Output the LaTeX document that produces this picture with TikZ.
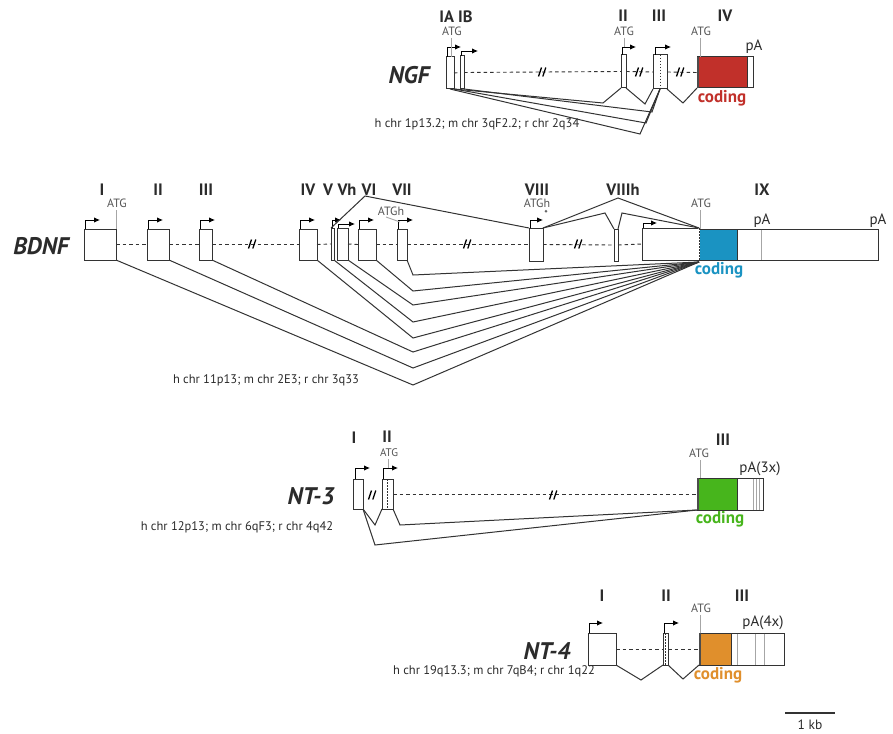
\documentclass[tikz,border=0pt]{standalone}
\usepackage{fontspec}
\setmainfont{PT Sans}
\usetikzlibrary{arrows.meta}
\definecolor{edge}{HTML}{333333}
\definecolor{txt}{HTML}{2B2B2B}
\definecolor{atgc}{HTML}{555555}
\definecolor{ngfc}{HTML}{C1302A}
\definecolor{bdnfc}{HTML}{1A93C2}
\definecolor{ntthree}{HTML}{47B51C}
\definecolor{ntfour}{HTML}{E08F2C}
\newcommand{\exonbox}[6]{\node[exon,minimum width=#4,minimum height=#5,#6] (#1) at (#2,#3) {};}
\newcommand{\tssarrow}[3]{\draw[tssline] (#1) -- ++(0,-#2) -- ++(#3,0);}
\begin{document}
\begin{tikzpicture}[x=1pt,y=-1pt,
  exon/.style={draw=edge,line width=1pt,fill=white,inner sep=0pt,outer sep=0pt,anchor=north west},
  tssline/.style={draw=black,line width=0.9pt,-{Latex[length=6pt,width=5.5pt]}},
  intron/.style={draw=edge,line width=0.9pt,dash pattern=on 3.5pt off 3pt},
  splice/.style={draw=edge,line width=1pt},
  atgline/.style={draw=gray!70,line width=0.9pt},
  dotl/.style={draw=edge,line width=0.9pt,dash pattern=on 1.5pt off 1.5pt},
  exlab/.style={font=\bfseries\fontsize{16.5}{16.5}\selectfont,text=txt,inner sep=0pt},
  atglab/.style={font=\fontsize{12}{12}\selectfont,text=atgc,inner sep=0pt},
  palab/.style={font=\fontsize{15}{15}\selectfont,text=txt,inner sep=0pt},
  codlab/.style={font=\bfseries\fontsize{17}{17}\selectfont,inner sep=0pt},
  genelab/.style={font=\bfseries\itshape\fontsize{24}{24}\selectfont,text=txt,inner sep=0pt},
  chrlab/.style={font=\fontsize{12.5}{12.5}\selectfont,text=txt,inner sep=0pt},
  brk/.pic={\draw[black,line width=1.3pt] (-3.5,4.5) -- (-0.5,-4.5) (0.8,4.5) -- (3.8,-4.5);}
]
\useasboundingbox (0,0) rectangle (893,733);
\fill[white] (0,0) rectangle (893,733);

%================ NGF =================
\exonbox{ngfIA}{446}{57}{8}{32}{}
\exonbox{ngfIB}{460}{56}{4}{33}{}
\exonbox{ngfII}{621}{55}{5}{33}{}
\exonbox{ngfIII}{653}{55}{14}{34}{}
\exonbox{ngfIVc}{697}{57}{50}{31}{fill=ngfc}
\exonbox{ngfIVw}{747}{57}{6}{31}{}
\draw[gray!60!black,line width=2pt] ([xshift=1pt]ngfIVc.north west) -- ([xshift=1pt]ngfIVc.south west);
\draw[dotl] (ngfIII.north) -- (ngfIII.south);
\draw[intron] (ngfIA.east) -- (ngfIB.west);
\draw[intron] (ngfIB.east) -- (ngfII.west);
\draw[intron] (ngfII.east) -- (ngfIII.west);
\draw[intron] (ngfIII.east) -- (ngfIVc.west);
\pic at (542,72) {brk};
\pic at (639,72) {brk};
\pic at (680,72) {brk};
\tssarrow{[xshift=1pt]ngfIA.north west}{10}{14}
\tssarrow{[xshift=1pt]ngfIB.north west}{5}{17}
\tssarrow{[xshift=1pt]ngfII.north west}{8}{14}
\tssarrow{[xshift=2pt]ngfIII.north west}{8}{16}
\node[exlab] (lNIA) at (456,17) {IA IB};
\node[atglab] (lNatg1) at (452,31) {ATG};
\draw[atgline] (451,38) -- (451,57);
\node[exlab] (lNII) at (623,16) {II};
\node[atglab] (lNatg2) at (624,31) {ATG};
\draw[atgline] (624,38) -- (624,47);
\node[exlab] (lNIII) at (659,16) {III};
\node[exlab] (lNIV) at (725,16) {IV};
\node[atglab] (lNatg3) at (701,31) {ATG};
\draw[atgline] (700,38) -- (700,57);
\node[palab] (lNpA) at (754,47) {pA};
\node[codlab,text=ngfc] (lNcod) at (722,98) {coding};
\node[genelab] (lNGF) at (409,75) {NGF};
\node[chrlab] (lNchr) at (477,124) {h chr 1p13.2; m chr 3qF2.2; r chr 2q34};
\coordinate (nA1) at (603,103);
\coordinate (nA2) at (645,104);
\coordinate (nA3) at (683,103);
\coordinate (nA4) at (652,112);
\coordinate (nA5) at (646,123);
\coordinate (nA6) at (640,134);
\draw[splice] (ngfIA.south east) -- (nA1) -- (ngfII.south west);
\draw[splice] (ngfII.south east) -- (nA2) -- (ngfIII.south west);
\draw[splice] (ngfIII.south east) -- (nA3) -- (ngfIVc.south west);
\draw[splice] (ngfIB.south east) -- (nA4) -- (ngfIII.south);
\draw[splice] (ngfIA.south east) -- (nA5) -- (ngfIII.south);
\draw[splice] (ngfIA.south) -- (nA6) -- (ngfIII.south);

%================ BDNF =================
\exonbox{bI}{84}{229}{32}{31}{}
\exonbox{bII}{147}{229}{22}{31}{}
\exonbox{bIII}{199}{229}{13}{31}{}
\exonbox{bIV}{299}{229}{18}{31}{}
\exonbox{bV}{331}{228}{3}{32}{}
\exonbox{bVh}{337}{228}{11}{32}{}
\exonbox{bVI}{358}{229}{18}{31}{}
\exonbox{bVII}{397}{229}{10}{31}{}
\exonbox{bVIII}{529}{228}{14}{33}{}
\exonbox{bVIIIh}{614}{229}{4}{32}{}
\exonbox{bIXa}{642}{228}{57}{32}{}
\exonbox{bIXc}{699}{229}{38}{31}{fill=bdnfc}
\exonbox{bIXw}{737}{229}{141}{31}{}
\draw[white,line width=1.4pt] (bIXa.north east) -- (bIXa.south east);
\draw[dotl] (bIXa.north east) -- (bIXa.south east);
\draw[atgline] (761,229.5) -- (761,259.5);
\draw[intron] (bI.east) -- (bII.west);
\draw[intron] (bII.east) -- (bIII.west);
\draw[intron] (bIII.east) -- (bIV.west);
\draw[intron] (bIV.east) -- (bV.west);
\draw[intron] (bVh.east) -- (bVI.west);
\draw[intron] (bVI.east) -- (bVII.west);
\draw[intron] (bVII.east) -- (bVIII.west);
\draw[intron] (bVIII.east) -- (bVIIIh.west);
\draw[intron] (bVIIIh.east) -- (bIXa.west);
\pic at (252,244) {brk};
\pic at (467,244) {brk};
\pic at (578,244) {brk};
\tssarrow{[xshift=1pt]bI.north west}{9}{15}
\tssarrow{[xshift=1pt]bII.north west}{9}{15}
\tssarrow{[xshift=1pt]bIII.north west}{9}{15}
\tssarrow{[xshift=1pt]bIV.north west}{9}{15}
\tssarrow{[xshift=1pt]bV.north west}{8}{9}
\tssarrow{[xshift=1pt]bVh.north west}{4}{17}
\tssarrow{[xshift=1pt]bVI.north west}{9}{15}
\tssarrow{[xshift=1pt]bVII.north west}{9}{15}
\tssarrow{[xshift=1pt]bVIII.north west}{8}{13}
\tssarrow{[xshift=1pt]bIXa.north west}{5}{14}
\node[font=\fontsize{10}{10}\selectfont,text=txt,inner sep=0pt] (bstar) at (546,214) {*};
\node[exlab] (lbI) at (102,190) {I};
\node[exlab] (lbII) at (158,190) {II};
\node[exlab] (lbIII) at (206,190) {III};
\node[exlab] (lbIV) at (308,190) {IV};
\node[exlab] (lbV) at (328,190) {V};
\node[exlab] (lbVh) at (347,190) {Vh};
\node[exlab] (lbVI) at (369,190) {VI};
\node[exlab] (lbVII) at (402,190) {VII};
\node[exlab] (lbVIII) at (537,190) {VIII};
\node[exlab] (lbVIIIh) at (623,190) {VIIIh};
\node[exlab] (lbIX) at (762,190) {IX};
\node[atglab] (lbatg1) at (117,203) {ATG};
\draw[atgline] (116,210) -- (116,229);
\node[atglab] (lbatgh1) at (391,211) {ATGh};
\draw[atgline] (386,217) -- (400,222);
\node[atglab] (lbatgh2) at (537,203) {ATGh};
\node[atglab] (lbatg2) at (701,203) {ATG};
\draw[atgline] (700,210) -- (700,229);
\node[palab] (lbpA1) at (762,221) {pA};
\node[palab] (lbpA2) at (878,221) {pA};
\node[codlab,text=bdnfc] (lbcod) at (719,270) {coding};
\node[genelab] (lBDNF) at (41,246) {BDNF};
\node[chrlab] (lbchr) at (266,380) {h chr 11p13; m chr 2E3; r chr 3q33};
% top splice lines
\coordinate (bt1) at (365,196);
\coordinate (bt2) at (618,198);
\coordinate (bt3) at (605,213);
\coordinate (bt4) at (622,213);
\draw[splice] (bV.north west) -- (bt1) -- (bVIII.north west);
\draw[splice] (bVIII.north east) -- (bt2) -- (bIXa.north east);
\draw[splice] (bVIII.north east) -- (bt3) -- (bVIIIh.north west);
\draw[splice] (bVIIIh.north east) -- (bt4) -- (bIXa.north east);
% bottom splice lines
\coordinate (ba1) at (413,385);
\coordinate (ba2) at (413,368);
\coordinate (ba3) at (413,352);
\coordinate (ba4) at (413,338);
\coordinate (ba5) at (413,322);
\coordinate (ba6) at (413,305);
\coordinate (ba7) at (413,291);
\coordinate (ba8) at (413,275);
\coordinate (bend) at ([yshift=-2pt]bIXa.south east);
\draw[splice] (bI.south east) -- (ba1) -- (bend);
\draw[splice] (bII.south east) -- (ba2) -- (bend);
\draw[splice] (bIII.south east) -- (ba3) -- (bend);
\draw[splice] (bIV.south east) -- (ba4) -- (bend);
\draw[splice] (bV.south east) -- (ba5) -- (bend);
\draw[splice] (bVh.south east) -- (ba6) -- (bend);
\draw[splice] (bVI.south east) -- (ba7) -- (bend);
\draw[splice] (bVII.south east) -- (ba8) -- (bend);

%================ NT-3 =================
\exonbox{tI}{353}{479}{10}{30}{}
\exonbox{tII}{382}{479}{11}{30}{}
\exonbox{tIIIc}{697}{478}{40}{32}{fill=ntthree}
\exonbox{tIIIw}{737}{478}{26}{32}{}
\draw[gray!60!black,line width=2pt] ([xshift=1pt]tIIIc.north west) -- ([xshift=1pt]tIIIc.south west);
\draw[dotl] (tII.north) -- (tII.south);
\foreach \xx in {753,756,759} \draw[atgline,line width=0.6pt] (\xx,478.5) -- (\xx,509.5);
\draw[intron] (tII.east) -- (tIIIc.west);
\pic at (372,495) {brk};
\pic at (553,495) {brk};
\tssarrow{[xshift=2pt]tI.north west}{11}{15}
\tssarrow{[xshift=1pt]tII.north west}{11}{15}
\node[exlab] (ltI) at (354,438) {I};
\node[exlab] (ltII) at (387,437) {II};
\node[atglab,font=\fontsize{11}{11}\selectfont] (ltatg1) at (389,453) {ATG};
\draw[atgline] (388,459) -- (388,468);
\node[exlab] (ltIII) at (723,440) {III};
\node[atglab] (ltatg2) at (699,453) {ATG};
\draw[atgline] (700,460) -- (700,478);
\node[palab] (ltpA) at (760,469) {pA(3x)};
\node[codlab,text=ntthree] (ltcod) at (720,519) {coding};
\node[genelab] (lNT3) at (311,496) {NT-3};
\node[chrlab] (ltchr) at (237,527) {h chr 12p13; m chr 6qF3; r chr 4q42};
\coordinate (ta1) at (375,525);
\coordinate (ta2) at (400,525);
\coordinate (ta3) at (375,545);
\draw[splice] (tI.south east) -- (ta1) -- (tII.south west);
\draw[splice] (tII.south east) -- (ta2) -- (tIIIc.south west);
\draw[splice] (tI.south east) -- (ta3) -- (tIIIc.south west);

%================ NT-4 =================
\exonbox{fI}{588}{633}{28}{32}{}
\exonbox{fII}{663}{633}{5}{32}{}
\exonbox{fIIIc}{699}{633}{32}{32}{fill=ntfour}
\exonbox{fIIIw}{731}{633}{53}{32}{}
\draw[gray!60!black,line width=2pt] ([xshift=1pt]fIIIc.north west) -- ([xshift=1pt]fIIIc.south west);
\draw[dotl] (fII.north) -- (fII.south);
\foreach \xx in {737,755,764} \draw[atgline,line width=0.6pt] (\xx,633.5) -- (\xx,664.5);
\draw[intron] (fI.east) -- (fII.west);
\draw[intron] (fII.east) -- (fIIIc.west);
\tssarrow{[xshift=1pt]fI.north west}{10}{14}
\tssarrow{[xshift=1pt]fII.north west}{10}{15}
\node[exlab] (lfI) at (602,596) {I};
\node[exlab] (lfII) at (666,596) {II};
\node[exlab] (lfIII) at (742,596) {III};
\node[atglab] (lfatg) at (701,608) {ATG};
\draw[atgline] (700,615) -- (700,633);
\node[palab] (lfpA) at (763,623) {pA(4x)};
\node[codlab,text=ntfour] (lfcod) at (718,675) {coding};
\node[genelab] (lNT4) at (547,651) {NT-4};
\node[chrlab] (lfchr) at (494,671) {h chr 19q13.3; m chr 7qB4; r chr 1q22};
\coordinate (fa1) at (641,680);
\coordinate (fa2) at (683,679);
\draw[splice] (fI.south east) -- (fa1) -- (fII.south west);
\draw[splice] (fII.south east) -- (fa2) -- (fIIIc.south west);

%================ scale bar =================
\coordinate (sb1) at (785,713);
\coordinate (sb2) at (835,713);
\draw[edge,line width=1.8pt] (sb1) -- (sb2);
\node[palab,font=\fontsize{13.5}{13.5}\selectfont] (sblab) at (810,725) {1 kb};
\end{tikzpicture}
\end{document}
